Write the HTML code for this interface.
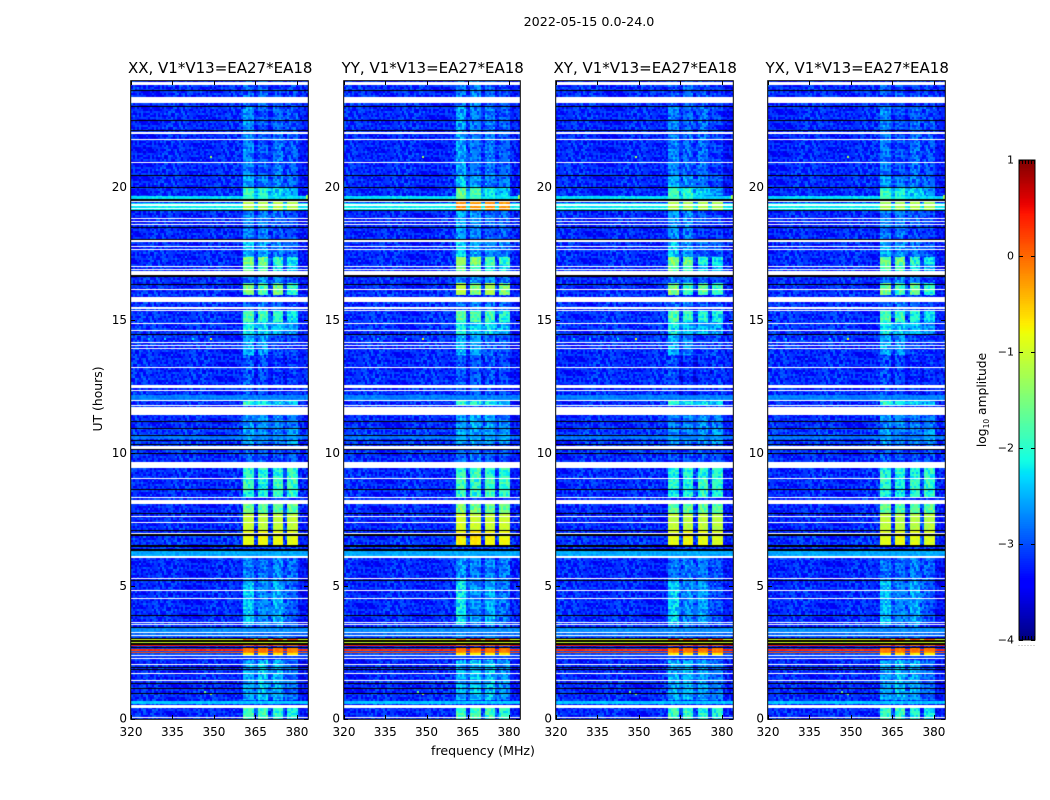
<!DOCTYPE html>
<html lang="en">
<head>
<meta charset="utf-8">
<title>2022-05-15 spectrogram</title>
<style>
html,body{margin:0;padding:0;background:#fff;}
#figure{position:relative;width:1050px;height:800px;overflow:hidden;background:#fff;font-family:"DejaVu Sans","Liberation Sans",sans-serif;}
canvas{position:absolute;display:block;}
svg{position:absolute;left:0;top:0;}
text{font-family:"DejaVu Sans","Liberation Sans",sans-serif;fill:#000;}
</style>
</head>
<body>
<div id="figure">
  <canvas id="p0"></canvas>
  <canvas id="p1"></canvas>
  <canvas id="p2"></canvas>
  <canvas id="p3"></canvas>
  <canvas id="cb"></canvas>
  <svg id="overlay" width="1050" height="800" xmlns="http://www.w3.org/2000/svg">
    <text x="589" y="26" font-size="12.7" text-anchor="middle">2022-05-15 0.0-24.0</text>
    <text x="483" y="755" font-size="12.6" text-anchor="middle">frequency (MHz)</text>
    <text transform="translate(102,399) rotate(-90)" font-size="12.4" text-anchor="middle">UT (hours)</text>
    <text transform="translate(986,400) rotate(-90)" font-size="12.3" text-anchor="middle">log<tspan font-size="7.5" dy="3">10</tspan><tspan dy="-3"> amplitude</tspan></text>
  </svg>
</div>
<script>
/* ---------- data ---------- */
const panelTitles = ["XX, V1*V13=EA27*EA18","YY, V1*V13=EA27*EA18","XY, V1*V13=EA27*EA18","YX, V1*V13=EA27*EA18"];
const panelGain = [0, 0.08, -0.03, -0.05];
const freqTicks = [320,335,350,365,380];
const hourTicks = [0,5,10,15,20];
const colorTicks = [-4,-3,-2,-1,0,1];

/* log10 amplitude of the quiet background, one value per UT hour */
const backgroundByHour = [-3.2,-3.22,-3.25,-3.2,-3.2,-3.22,-3.15,-3.22,-3.2,-3.2,-3.12,-3.2,-3.18,-3.2,-3.15,-3.15,-3.2,-3.2,-3.22,-3.2,-3.2,-3.22,-3.2,-3.18];

/* the four RFI sub-bands, MHz */
const rfiBands = [[360.5,364.8],[365.8,370],[371,375.3],[376.3,380.3]];

/* RFI level per time range: hour start, hour end, band1..band4, extra for YY */
const rfiLevels = [
 [23.06,24,-2.95,-2.85,-3.0,-3.1,0],
 [20.47,23.06,-2.7,-2.9,-2.85,-3.0,0],
 [20.02,20.47,-2.5,-2.7,-2.8,-2.9,0],
 [19.56,20.02,-1.85,-2.0,-2.35,-2.6,0.1],
 [19.15,19.56,-1.15,-1.2,-1.15,-1.2,0.85],
 [18.55,19.15,-2.65,-2.7,-2.9,-3.0,0],
 [18.03,18.55,-2.7,-2.8,-3.05,-3.05,0],
 [17.35,18.03,-2.4,-2.65,-2.8,-2.9,0],
 [17.05,17.35,-1.5,-1.6,-2.0,-2.2,0.1],
 [16.70,17.05,-1.7,-1.9,-2.3,-2.4,0],
 [16.38,16.70,-2.8,-2.7,-2.8,-3.0,0],
 [15.92,16.38,-1.5,-1.85,-1.6,-1.95,0.3],
 [15.35,15.72,-2.9,-2.8,-2.9,-3.0,0],
 [14.94,15.35,-1.8,-1.9,-2.0,-2.2,0],
 [14.45,14.94,-2.2,-2.4,-2.4,-2.6,0],
 [13.7,14.45,-2.55,-2.65,-3.0,-3.05,0],
 [12.19,13.7,-3.0,-3.05,-3.1,-3.1,0],
 [11.82,12.0,-2.0,-2.2,-2.3,-2.4,0],
 [10.95,11.45,-2.7,-2.65,-2.7,-2.8,0],
 [10.31,10.95,-2.6,-2.7,-2.7,-2.6,0],
 [9.67,10.31,-2.95,-2.95,-2.95,-3.0,0],
 [9.07,9.44,-2.05,-2.0,-2.05,-2.0,0],
 [8.62,9.03,-1.95,-2.1,-1.9,-1.95,0],
 [8.35,8.62,-2.1,-2.1,-1.95,-2.05,0],
 [7.75,8.09,-1.6,-1.7,-1.7,-1.7,0],
 [7.11,7.71,-1.05,-1.1,-1.1,-1.1,0],
 [6.55,7.11,-0.85,-0.78,-0.85,-0.9,0.03],
 [5.23,6.07,-2.75,-2.8,-2.75,-2.9,0],
 [3.54,5.19,-2.35,-2.7,-2.55,-2.95,0],
 [3.05,3.54,-2.8,-2.85,-2.8,-3.0,0],
 [0.71,2.22,-2.55,-2.45,-2.55,-2.8,0],
 [0,0.40,-1.9,-1.9,-2.0,-2.1,0]
];

/* broadband rows: hour start, hour end, level, optional level inside the RFI bands */
const broadbandRows = [
 [19.56,19.70,-2.3],[19.36,19.44,-2.2],[19.24,19.31,-2.2],[19.15,19.20,-2.25],
 [12.0,12.19,-2.75],[10.52,10.65,-2.8],[6.13,6.32,-2.55],[3.27,3.45,-2.7],
 [3.06,3.22,-2.85],[2.96,3.02,-0.95,0.15],[2.86,2.91,-1.0,-0.9],
 [2.72,2.78,0.35,-0.1],[2.62,2.68,-3.1,-0.1],[2.56,2.62,0.3,-0.1],[2.53,2.56,-3.0,-0.1],
 [2.46,2.53,0.15,-0.2],[2.41,2.46,-3.0,-0.7],[2.28,2.36,-3.1,-3.0],[0.55,0.69,-2.4]
];

/* isolated hot cells: MHz, hour, level */
const hotSpots = [[348.5,14.33,-0.8],[348.5,21.18,-1.3],[346.4,1.05,-1.6],[348.5,0.98,-1.3],[383.4,19.62,-1.2],[383.4,19.70,-1.3],[342,14.33,-2.2],[332,14.33,-2.3],[326,14.33,-2.4]];

/* flagged (blank) time ranges, hours */
const whiteFlags = [[23.85,23.95],[23.16,23.41],[22.02,22.07],[21.78,21.82],[20.91,20.94],[19.44,19.50],[19.31,19.36],[19.20,19.24],[18.81,18.85],[18.71,18.75],[18.59,18.62],[17.96,18.01],[17.77,17.81],[17.66,17.69],[16.99,17.03],[16.88,16.92],[16.70,16.87],[16.14,16.18],[15.70,15.89],[15.44,15.48],[15.35,15.39],[14.86,14.90],[14.59,14.62],[14.13,14.17],[14.04,14.08],[13.92,13.96],[13.21,13.24],[12.55,12.58],[12.47,12.51],[12.34,12.38],[11.96,12.0],[11.76,11.80],[11.45,11.73],[10.16,10.28],[9.44,9.67],[9.02,9.06],[8.31,8.35],[8.09,8.24],[7.60,7.65],[7.37,7.41],[6.96,7.0],[6.07,6.13],[5.26,5.29],[4.82,4.85],[4.50,4.54],[3.61,3.65],[3.53,3.56],[3.22,3.26],[3.11,3.16],[2.36,2.41],[2.25,2.28],[2.02,2.06],[1.69,1.73],[1.43,1.47],[0.40,0.54],[0.05,0.09]];

/* zero-amplitude time ranges, hours */
const blackFlags = [[23.64,23.66],[23.04,23.06],[22.50,22.52],[22.11,22.14],[20.44,20.47],[19.99,20.02],[19.50,19.56],[19.11,19.15],[18.47,18.51],[18.03,18.07],[16.64,16.69],[16.34,16.38],[14.45,14.48],[11.19,11.22],[10.91,10.95],[10.65,10.67],[10.46,10.50],[10.30,10.34],[10.12,10.16],[9.96,10.0],[8.60,8.65],[7.70,7.74],[7.07,7.11],[6.87,6.96],[6.48,6.53],[6.33,6.40],[5.19,5.24],[3.89,3.91],[3.45,3.47],[3.02,3.06],[2.91,2.96],[2.78,2.86],[2.68,2.72],[1.91,1.95],[1.83,1.87],[1.32,1.34],[1.13,1.16],[0.95,0.98]];

/* fixed cell-to-cell texture offsets, log10 amplitude */
const cellTexture = [0.12,-0.31,0.27,-0.08,0.36,-0.22,0.05,-0.38,0.19,0.31,-0.14,-0.27,0.09,0.42,-0.35,0.02,-0.19,0.24,-0.04,0.33,-0.29,0.15,-0.41,0.07,0.28,-0.11,0.38,-0.24,-0.02,0.17,-0.33,0.22,-0.16,0.45,-0.07,-0.37,0.11,0.3,-0.26,0.03,-0.12,0.35,-0.2,0.13,-0.43,0.25,-0.05,0.4,-0.3,0.08,0.2,-0.17,-0.34,0.29,-0.09,0.04,0.37,-0.25,0.14,-0.39,0.23,-0.01,0.32,-0.15,-0.28,0.1,0.48,-0.21,0.06,-0.36,0.18,-0.1,0.26,-0.32,0.01,0.39,-0.18,-0.06,0.21,-0.4,0.16,0.34,-0.23,-0.03,0.11,-0.13,0.3,-0.3,0.43,-0.16,0.07,-0.27,0.2,0.0,-0.35,0.24,0.12];

/* ---------- axes ---------- */
const panelLeft = [131,344,556,768];
const panelWidth = [177,176,177,177];
const plotTop = 81, plotBottom = 719;
const nRows = 640, nCols = 85;
const svg = document.getElementById('overlay');
const NS = 'http://www.w3.org/2000/svg';

function xScale(p,f){return panelLeft[p]+(f-320)/64*panelWidth[p];}
function yScale(h){return plotBottom-h/24*(plotBottom-plotTop);}
function colorY(v){return 640-(v+4)/5*480;}

function lerpStops(s,t){
  for(let i=1;i<s.length;i++){
    if(t<=s[i][0]){const a=s[i-1],b=s[i];return a[1]+(b[1]-a[1])*(t-a[0])/(b[0]-a[0]);}
  }
  return s[s.length-1][1];
}
const jetRed=[[0,0],[.35,0],[.66,1],[.89,1],[1,.5]];
const jetGreen=[[0,0],[.125,0],[.375,1],[.64,1],[.91,0],[1,0]];
const jetBlue=[[0,.5],[.11,1],[.34,1],[.65,0],[1,0]];
function colorScale(v){
  const t=Math.max(0,Math.min(1,(v+4)/5));
  return 'rgb('+Math.round(255*lerpStops(jetRed,t))+','+Math.round(255*lerpStops(jetGreen,t))+','+Math.round(255*lerpStops(jetBlue,t))+')';
}
function bandIndex(f){
  for(let i=0;i<rfiBands.length;i++){if(f>=rfiBands[i][0]&&f<rfiBands[i][1])return i;}
  return -1;
}
function findRange(list,h){
  for(let i=0;i<list.length;i++){if(h>=list[i][0]&&h<list[i][1])return list[i];}
  return null;
}
const bandLow = rfiBands[0][0], bandHigh = rfiBands[rfiBands.length-1][1];

function drawPanel(p){
  const c=document.getElementById('p'+p);
  const w=panelWidth[p],h=plotBottom-plotTop;
  c.width=w;c.height=h;
  c.style.left=panelLeft[p]+'px';c.style.top=plotTop+'px';
  const g=c.getContext('2d');
  g.fillStyle='#fff';g.fillRect(0,0,w,h);
  for(let r=0;r<nRows;r++){
    const hour=(r+0.5)/nRows*24;
    const seg=findRange(rfiLevels,hour);
    const wide=findRange(broadbandRows,hour);
    const base=backgroundByHour[Math.min(23,Math.floor(hour))];
    const y0=Math.round(yScale((r+1)/nRows*24))-plotTop;
    const y1=Math.round(yScale(r/nRows*24))-plotTop;
    if(y1<=y0)continue;
    const tr=r>>1;
    for(let k=0;k<nCols;k++){
      const f=320+(k+0.5)/nCols*64;
      const b=bandIndex(f);
      const inRange=f>=bandLow&&f<bandHigh;
      let v=f>380.5?base-0.1:base;
      let amp=0.85;
      if(b>=0&&seg){
        v=seg[2+b]+panelGain[p]+(p===1?seg[6]:0);
        if(v>-1.35)amp=0.3;
      }else if(inRange&&seg){
        const avg=(seg[2]+seg[3]+seg[4]+seg[5])/4;
        v=avg<-2.1?avg-0.3:base+0.1;
      }
      if(wide){
        if(inRange&&wide.length>3){v=b>=0?wide[3]:wide[2];amp=0.25;}
        else if(b>=0&&seg){v=Math.max(v,wide[2]);amp=0.35;}
        else{v=wide[2];amp=0.3;}
      }
      const n=tr*1571+k*2971+p*3719+11;
      const ix=Math.floor(n*n/8+n*7)%cellTexture.length;
      v+=cellTexture[ix]*amp;
      g.fillStyle=colorScale(v);
      const x0=Math.round(xScale(p,320+k/nCols*64))-panelLeft[p];
      const x1=Math.round(xScale(p,320+(k+1)/nCols*64))-panelLeft[p];
      g.fillRect(x0,y0,x1-x0,y1-y0);
    }
  }
  hotSpots.forEach(function(s){
    g.fillStyle=colorScale(s[2]);
    g.fillRect(Math.round(xScale(p,s[0]))-panelLeft[p],Math.round(yScale(s[1]))-plotTop,2,2);
  });
  function flagRows(list,color){
    g.fillStyle=color;
    list.forEach(function(fl){
      const a=Math.round(yScale(fl[1]))-plotTop;
      const b=Math.round(yScale(fl[0]))-plotTop;
      g.fillRect(0,a,w,Math.max(1,b-a));
    });
  }
  flagRows(blackFlags,'#000');
  flagRows(whiteFlags,'#fff');
}

function addTick(x1,y1,x2,y2){
  const l=document.createElementNS(NS,'line');
  
  
  l.setAttribute('x1',x1);l.setAttribute('y1',y1);l.setAttribute('x2',x2);l.setAttribute('y2',y2);
  l.setAttribute('stroke','#000');l.setAttribute('stroke-width','1');
  svg.appendChild(l);
}
function addTickLabel(x,y,s,size,anchor){
  const t=document.createElementNS(NS,'text');
  
  
  t.setAttribute('x',x);t.setAttribute('y',y);t.setAttribute('font-size',size);t.setAttribute('text-anchor',anchor);
  t.textContent=s;
  svg.appendChild(t);
}

function drawAxes(p){
  const l=panelLeft[p],w=panelWidth[p];
  freqTicks.forEach(function(f){
    const x=Math.round(xScale(p,f))+0.5;
    addTick(x,plotBottom,x,plotBottom-4);
    addTick(x,plotTop,x,plotTop+4);
    addTickLabel(xScale(p,f),736,String(f),12,'middle');
  });
  hourTicks.forEach(function(h){
    const y=Math.round(yScale(h))+0.5;
    addTick(l,y,l+4,y);
    addTick(l+w,y,l+w-4,y);
    addTickLabel(l-4,yScale(h)+3.7,String(h),12,'end');
  });
  const fr=document.createElementNS(NS,'rect');
  
  
  fr.setAttribute('x',l-0.3);fr.setAttribute('y',plotTop-0.3);fr.setAttribute('width',w+0.6);fr.setAttribute('height',plotBottom-plotTop+0.6);
  fr.setAttribute('fill','none');fr.setAttribute('stroke','#000');fr.setAttribute('stroke-width','1');
  svg.appendChild(fr);
  const t=document.createElementNS(NS,'text');
  
  
  t.setAttribute('x',l+w/2+0.7);t.setAttribute('y',73);t.setAttribute('font-size','15');t.setAttribute('text-anchor','middle');
  t.textContent=panelTitles[p];
  svg.appendChild(t);
}

function drawColorbar(){
  const c=document.getElementById('cb');
  c.width=16;c.height=480;c.style.left='1019px';c.style.top='160px';
  const g=c.getContext('2d');
  for(let i=0;i<256;i++){
    const v=-4+(i+0.5)/256*5;
    const y0=Math.round(colorY(-4+(i+1)/256*5))-160;
    const y1=Math.round(colorY(-4+i/256*5))-160;
    g.fillStyle=colorScale(v);
    g.fillRect(0,y0,16,y1-y0);
  }
  colorTicks.forEach(function(v){
    const y=Math.round(colorY(v))+0.5;
    addTick(1019,y,1023,y);
    addTick(1035,y,1031,y);
    addTickLabel(1014,colorY(v)+3.5,v<0?'\u2212'+Math.abs(v):String(v),11,'end');
  });
  for(let i=0;i<6;i++){
    const x=1019.5+i*3;
    addTick(x,160,x,164);
    addTick(x,640,x,636);
    const d=document.createElementNS(NS,'rect');
    
    
    d.setAttribute('x',x-1);d.setAttribute('y',645);d.setAttribute('width',1);d.setAttribute('height',1);d.setAttribute('fill','#aaa');
    svg.appendChild(d);
  }
  const fr=document.createElementNS(NS,'rect');
  
  
  fr.setAttribute('x',1019);fr.setAttribute('y',160);fr.setAttribute('width',16);fr.setAttribute('height',480);
  fr.setAttribute('fill','none');fr.setAttribute('stroke','#000');fr.setAttribute('stroke-width','1');
  svg.appendChild(fr);
}

for(let p=0;p<4;p++){drawPanel(p);drawAxes(p);}
drawColorbar();
</script>
</body>
</html>
